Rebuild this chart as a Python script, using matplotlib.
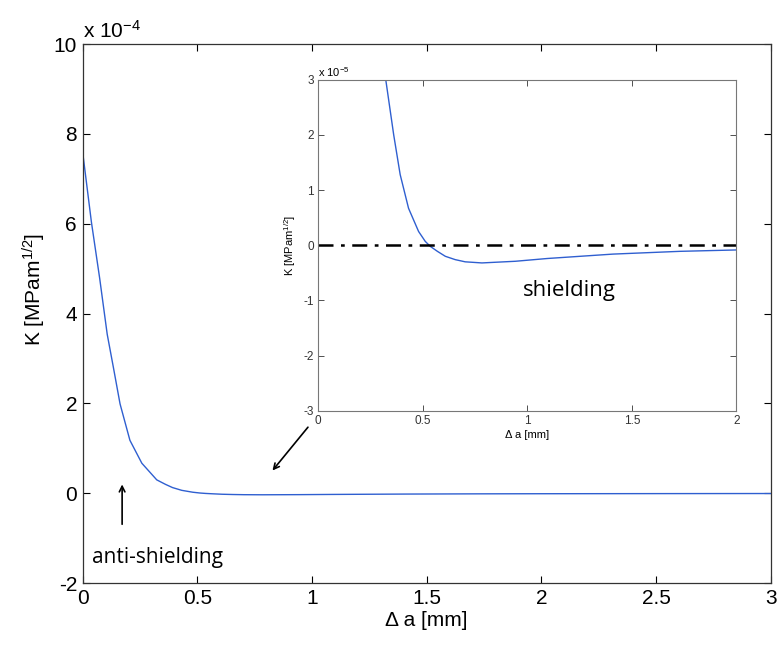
import matplotlib
matplotlib.use("Agg")
import matplotlib.pyplot as plt

plt.rcParams['font.family'] = ['Liberation Sans', 'DejaVu Sans']
plt.rcParams['mathtext.fontset'] = 'custom'
plt.rcParams['mathtext.rm'] = 'Liberation Sans'
plt.rcParams['mathtext.it'] = 'Liberation Sans:italic'

# Data: crack extension (mm) and K (units of 1e-4 MPa m^1/2)
delta_a = [0.0, 0.038, 0.074, 0.107, 0.134, 0.163, 0.206, 0.258, 0.323, 0.361,
           0.392, 0.432, 0.48, 0.512, 0.536, 0.57, 0.608, 0.655, 0.703, 0.783,
           0.943, 1.095, 1.41, 1.73, 2.0, 2.5, 3.0]
K_e4 = [7.59, 6.04, 4.79, 3.54, 2.80, 1.99, 1.18, 0.67, 0.30, 0.20,
        0.128, 0.067, 0.025, 0.007, -0.002, -0.011, -0.020, -0.026, -0.030, -0.032,
        -0.029, -0.024, -0.016, -0.011, -0.0085, -0.006, -0.004]

main_xticks = [0, 0.5, 1, 1.5, 2, 2.5, 3]
main_yticks = [-2, 0, 2, 4, 6, 8, 10]
inset_xticks = [0, 0.5, 1, 1.5, 2]
inset_yticks = [-3, -2, -1, 0, 1, 2, 3]

line_color = '#2f5fd0'

fig = plt.figure(figsize=(7.8, 6.48), dpi=100)
ax = fig.add_axes([0.106, 0.100, 0.882, 0.832])
ax.plot(delta_a, K_e4, color=line_color, lw=1.0)
ax.set_xlim(0, 3)
ax.set_ylim(-2, 10)
ax.set_xticks(main_xticks)
ax.set_xticklabels(['0', '0.5', '1', '1.5', '2', '2.5', '3'])
ax.set_yticks(main_yticks)
ax.set_yticklabels([str(v) for v in main_yticks])
ax.tick_params(direction='in', top=True, right=True, labelsize=15, length=5, width=0.8, pad=4)
for s in ax.spines.values():
    s.set_linewidth(0.9)
    s.set_color('#333333')
ax.set_xlabel('Δ a [mm]', fontsize=15, labelpad=2)
ax.set_ylabel('K [MPam$^{1/2}$]', fontsize=15)
ax.yaxis.set_label_coords(-0.05, 0.544)
ax.text(0.0, 1.005, 'x 10$^{-4}$', transform=ax.transAxes, fontsize=15,
        ha='left', va='bottom')

ax.text(0.04, -1.43, 'anti-shielding', fontsize=15, family=['Open Sans', 'DejaVu Sans'],
        ha='left', va='center')
ax.annotate('', xy=(0.172, 0.26), xytext=(0.172, -0.75),
            arrowprops=dict(arrowstyle='->', color='black', lw=1.2))
ax.annotate('', xy=(0.82, 0.46), xytext=(0.99, 1.52),
            arrowprops=dict(arrowstyle='->', color='black', lw=1.2))

# Inset (units of 1e-5)
ins_y = [k * 10 for k in K_e4]
axi = fig.add_axes([0.408, 0.366, 0.536, 0.511])
axi.plot(delta_a, ins_y, color=line_color, lw=1.0)
axi.axhline(0, color='black', lw=1.8, ls='-.', dashes=(6, 3, 1.5, 3))
axi.set_xlim(0, 2)
axi.set_ylim(-3, 3)
axi.set_xticks(inset_xticks)
axi.set_xticklabels(['0', '0.5', '1', '1.5', '2'])
axi.set_yticks(inset_yticks)
axi.set_yticklabels([str(v) for v in inset_yticks])
axi.tick_params(direction='in', top=True, right=True, labelsize=8.5, length=4, width=0.6,
                colors='#333333', pad=3)
for s in axi.spines.values():
    s.set_linewidth(0.8)
    s.set_color('#777777')
axi.set_xlabel('Δ a [mm]', fontsize=8, labelpad=2)
axi.set_ylabel('K [MPam$^{1/2}$]', fontsize=8, labelpad=4)
axi.text(0.0, 1.003, 'x 10$^{-5}$', transform=axi.transAxes, fontsize=8,
         ha='left', va='bottom')
axi.text(1.2, -0.82, 'shielding', fontsize=16, family=['Open Sans', 'DejaVu Sans'],
         ha='center', va='center')

fig.savefig('out.png', dpi=100)
